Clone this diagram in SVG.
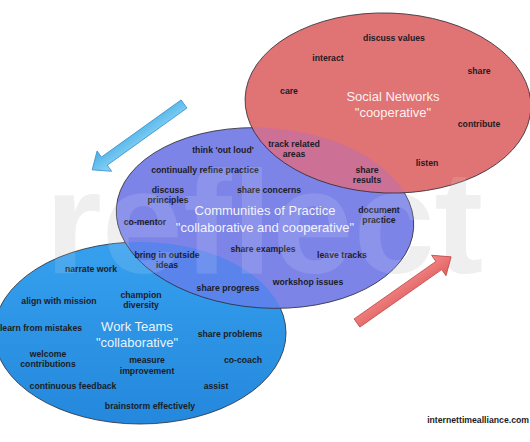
<svg xmlns="http://www.w3.org/2000/svg" xmlns:xlink="http://www.w3.org/1999/xlink" width="530" height="442" viewBox="0 0 530 442">
<style>
.lbl{font-family:"Liberation Sans",Arial,sans-serif;font-weight:bold;font-size:8.7px;fill:#1c1c26;text-anchor:middle}
.ttl{font-family:"Liberation Sans",Arial,sans-serif;font-size:13px;fill:#ffffff;fill-opacity:0.92;text-anchor:middle}
.edge{fill:none;stroke:#2a2a33;stroke-width:0.8}
.arrow{stroke-width:0.8;stroke-linejoin:round}
</style>
<defs>
<text id="wm" x="45" y="273" font-family="'Liberation Sans',Arial,sans-serif" font-weight="bold" font-size="146">reflect</text>
<ellipse id="eBlue" cx="140" cy="333" rx="146" ry="91"/>
<ellipse id="ePurple" cx="265" cy="218" rx="149" ry="90" transform="rotate(4 265 218)"/>
<ellipse id="eRed" cx="388" cy="103" rx="143" ry="90" transform="rotate(2 388 103)"/>
<clipPath id="cBlue"><use xlink:href="#eBlue"/></clipPath>
<clipPath id="cPurple"><use xlink:href="#ePurple"/></clipPath>
<linearGradient id="gBlue" x1="0" y1="0" x2="0" y2="1">
<stop offset="0" stop-color="#36a0ee"/>
<stop offset="1" stop-color="#2488dc"/>
</linearGradient>
<linearGradient id="gArrB" x1="0" y1="0" x2="0" y2="1">
<stop offset="0" stop-color="#8dd6f7"/>
<stop offset="1" stop-color="#4aaee4"/>
</linearGradient>
<linearGradient id="gArrR" x1="0" y1="0" x2="0" y2="1">
<stop offset="0" stop-color="#f28a88"/>
<stop offset="1" stop-color="#e06060"/>
</linearGradient>
</defs>
<rect width="530" height="442" fill="#ffffff"/>
<use xlink:href="#wm" fill="#ededed"/>

<g id="work-teams">
<use xlink:href="#eBlue" fill="url(#gBlue)"/>
<use xlink:href="#eBlue" class="edge"/>
<text class="ttl" x="137" y="331">Work Teams</text>
<text class="ttl" x="137" y="347">"collaborative"</text>
<text class="lbl" x="91" y="271.5">narrate work</text>
<text class="lbl" x="59" y="303.5">align with mission</text>
<text class="lbl" x="141" y="297.5">champion</text>
<text class="lbl" x="141" y="307.5">diversity</text>
<text class="lbl" x="41" y="330.5">learn from mistakes</text>
<text class="lbl" x="230" y="336.5">share problems</text>
<text class="lbl" x="48" y="356.5">welcome</text>
<text class="lbl" x="48" y="366.5">contributions</text>
<text class="lbl" x="147" y="362.5">measure</text>
<text class="lbl" x="147" y="373.5">improvement</text>
<text class="lbl" x="243" y="362.5">co-coach</text>
<text class="lbl" x="73" y="388.5">continuous feedback</text>
<text class="lbl" x="216" y="388.5">assist</text>
<text class="lbl" x="150" y="408.5">brainstorm effectively</text>
</g>

<g id="communities-of-practice">
<use xlink:href="#ePurple" fill="#7d84e8"/>
<use xlink:href="#ePurple" fill="#5a83ec" clip-path="url(#cBlue)"/>
<use xlink:href="#ePurple" class="edge"/>
<text class="ttl" x="265" y="215">Communities of Practice</text>
<text class="ttl" x="265" y="232">"collaborative and cooperative"</text>
<text class="lbl" x="223" y="152.5">think 'out loud'</text>
<text class="lbl" x="205" y="172.5">continually refine practice</text>
<text class="lbl" x="168" y="192.5">discuss</text>
<text class="lbl" x="168" y="202.5">principles</text>
<text class="lbl" x="269" y="192.5">share concerns</text>
<text class="lbl" x="145" y="224.5">co-mentor</text>
<text class="lbl" x="379" y="212.5">document</text>
<text class="lbl" x="379" y="222.5">practice</text>
<text class="lbl" x="263" y="251.5">share examples</text>
<text class="lbl" x="342" y="257.5">leave tracks</text>
<text class="lbl" x="167" y="257.5">bring in outside</text>
<text class="lbl" x="167" y="267.5">ideas</text>
<text class="lbl" x="308" y="284.5">workshop issues</text>
<text class="lbl" x="228" y="290.5">share progress</text>
</g>

<g id="social-networks">
<use xlink:href="#eRed" fill="#e07373"/>
<use xlink:href="#eRed" fill="#cc7096" clip-path="url(#cPurple)"/>
<use xlink:href="#eRed" class="edge"/>
<text class="ttl" x="393" y="101">Social Networks</text>
<text class="ttl" x="393" y="117">"cooperative"</text>
<text class="lbl" x="394" y="41">discuss values</text>
<text class="lbl" x="328" y="61">interact</text>
<text class="lbl" x="479" y="74">share</text>
<text class="lbl" x="289" y="94">care</text>
<text class="lbl" x="479" y="126.5">contribute</text>
<text class="lbl" x="294" y="146.5">track related</text>
<text class="lbl" x="294" y="157">areas</text>
<text class="lbl" x="427" y="166">listen</text>
<text class="lbl" x="367" y="172.5">share</text>
<text class="lbl" x="367" y="182.5">results</text>
</g>

<use xlink:href="#wm" fill="#ffffff" fill-opacity="0.12"/>

<g id="connectors">
<polygon class="arrow" transform="translate(184 104) rotate(144.35)" points="0,-5 98,-5 98,-12.5 113,0 98,12.5 98,5 0,5" fill="url(#gArrB)" stroke="#3b95cf"/>
<polygon class="arrow" transform="translate(357 323) rotate(-35.1)" points="0,-5 100,-5 100,-12.5 115,0 100,12.5 100,5 0,5" fill="url(#gArrR)" stroke="#c44a4a"/>
</g>

<text class="lbl" x="529" y="422.5" style="text-anchor:end">internettimealliance.com</text>
</svg>
